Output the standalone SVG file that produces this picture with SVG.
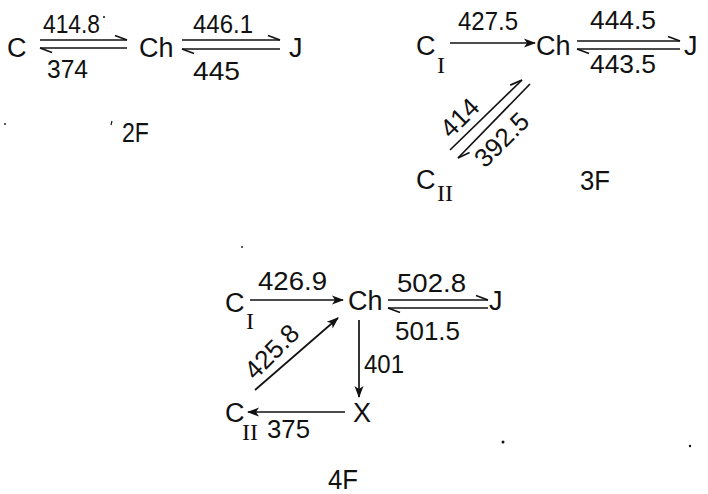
<svg xmlns="http://www.w3.org/2000/svg" width="708" height="494" viewBox="0 0 708 494">
<style>
.t{font-family:"Liberation Sans","DejaVu Sans",sans-serif;font-size:27px;fill:#111}
.l{font-family:"Liberation Sans","DejaVu Sans",sans-serif;font-size:26px;fill:#111}
.s{font-family:"Liberation Serif","DejaVu Serif",serif;font-size:24px;fill:#111}
.c line{stroke:#111;stroke-width:1.7;fill:none}
.h{marker-end:url(#harp)}
.a{marker-end:url(#arr)}
</style>
<defs>
<marker id="harp" markerUnits="userSpaceOnUse" markerWidth="16" markerHeight="10" viewBox="-14 -6 16 10" orient="auto" overflow="visible">
<path d="M0,0 L-12,-4.5" stroke="#111" stroke-width="1.7" fill="none"/>
</marker>
<marker id="arr" markerUnits="userSpaceOnUse" markerWidth="16" markerHeight="12" viewBox="-14 -6 16 12" orient="auto" overflow="visible">
<path d="M1,0 L-11,-4.5 L-8,0 L-11,4.5 Z" fill="#111"/>
</marker>
</defs>
<rect width="708" height="494" fill="#fff"/>

<g id="f2">
<g id="n2C"><text class="t" x="7" y="57">C</text></g>
<g id="n2Ch"><text class="t" x="139" y="57">Ch</text></g>
<g id="n2J"><text class="t" x="289" y="57">J</text></g>
<text class="l" x="43" y="33" textLength="57" lengthAdjust="spacingAndGlyphs">414.8</text>
<circle cx="104" cy="17" r="1" fill="#111"/>
<text class="l" x="47" y="78" textLength="41" lengthAdjust="spacingAndGlyphs">374</text>
<text class="l" x="193" y="33" textLength="60" lengthAdjust="spacingAndGlyphs">446.1</text>
<text class="l" x="193" y="80" textLength="47" lengthAdjust="spacingAndGlyphs">445</text>
<text class="t" x="122" y="142" textLength="27" lengthAdjust="spacingAndGlyphs">2F</text>
<line x1="112" y1="121" x2="111" y2="125" stroke="#111" stroke-width="1.2"/>
</g>

<g id="f3">
<g id="n3CI"><text class="t" x="416" y="55">C</text><text class="s" x="437" y="73">I</text></g>
<g id="n3Ch"><text class="t" x="536" y="55">Ch</text></g>
<g id="n3J"><text class="t" x="684" y="55">J</text></g>
<g id="n3CII"><text class="t" x="416" y="189">C</text><text class="s" x="437" y="201">II</text></g>
<text class="l" x="458" y="30" textLength="60" lengthAdjust="spacingAndGlyphs">427.5</text>
<text class="l" x="590" y="29" textLength="66" lengthAdjust="spacingAndGlyphs">444.5</text>
<text class="l" x="590" y="73" textLength="66" lengthAdjust="spacingAndGlyphs">443.5</text>
<text class="l" text-anchor="middle" transform="translate(466,124) rotate(-45)">414</text>
<text class="l" text-anchor="middle" transform="translate(508,146) rotate(-45)">392.5</text>
<text class="t" x="580" y="190" textLength="30" lengthAdjust="spacingAndGlyphs">3F</text>
</g>

<g id="f4">
<g id="n4CI"><text class="t" x="225" y="312">C</text><text class="s" x="246" y="329">I</text></g>
<g id="n4Ch"><text class="t" x="348" y="310">Ch</text></g>
<g id="n4J"><text class="t" x="489" y="310">J</text></g>
<g id="n4X"><text class="t" x="353" y="422">X</text></g>
<g id="n4CII"><text class="t" x="225" y="422">C</text><text class="s" x="242" y="440">II</text></g>
<text class="l" x="258" y="290" textLength="69" lengthAdjust="spacingAndGlyphs">426.9</text>
<text class="l" x="397" y="292" textLength="69" lengthAdjust="spacingAndGlyphs">502.8</text>
<text class="l" x="395" y="340" textLength="65" lengthAdjust="spacingAndGlyphs">501.5</text>
<text class="l" x="364" y="373" textLength="40" lengthAdjust="spacingAndGlyphs">401</text>
<text class="l" x="267" y="438" textLength="43" lengthAdjust="spacingAndGlyphs">375</text>
<text class="l" text-anchor="middle" transform="translate(278,358) rotate(-45)">425.8</text>
<text class="t" x="328" y="489" textLength="30" lengthAdjust="spacingAndGlyphs">4F</text>
</g>

<g id="connectors" class="c">
<line class="h" x1="40" y1="40" x2="127" y2="40"/>
<line class="h" x1="127" y1="48" x2="40" y2="48"/>
<line class="h" x1="182" y1="40" x2="280" y2="40"/>
<line class="h" x1="280" y1="49" x2="182" y2="49"/>
<line class="a" x1="450" y1="43" x2="535" y2="43"/>
<line class="h" x1="577" y1="41" x2="680" y2="41"/>
<line class="h" x1="680" y1="49" x2="577" y2="49"/>
<line class="h" x1="450" y1="150" x2="522" y2="80"/>
<line class="h" x1="530" y1="84" x2="458" y2="158"/>
<line class="a" x1="250" y1="300" x2="343" y2="300"/>
<line class="h" x1="388" y1="300" x2="488" y2="300"/>
<line class="h" x1="488" y1="308" x2="388" y2="308"/>
<line class="a" x1="359" y1="320" x2="359" y2="397"/>
<line class="a" x1="345" y1="412" x2="248" y2="412"/>
<line class="a" x1="255" y1="390" x2="338" y2="318"/>
</g>

<g id="specks" fill="#111">
<circle cx="503" cy="442" r="1.5"/>
<circle cx="690" cy="446" r="1.2"/>
<circle cx="242" cy="247" r="0.9"/>
<circle cx="5" cy="124" r="0.9"/>
</g>
</svg>
